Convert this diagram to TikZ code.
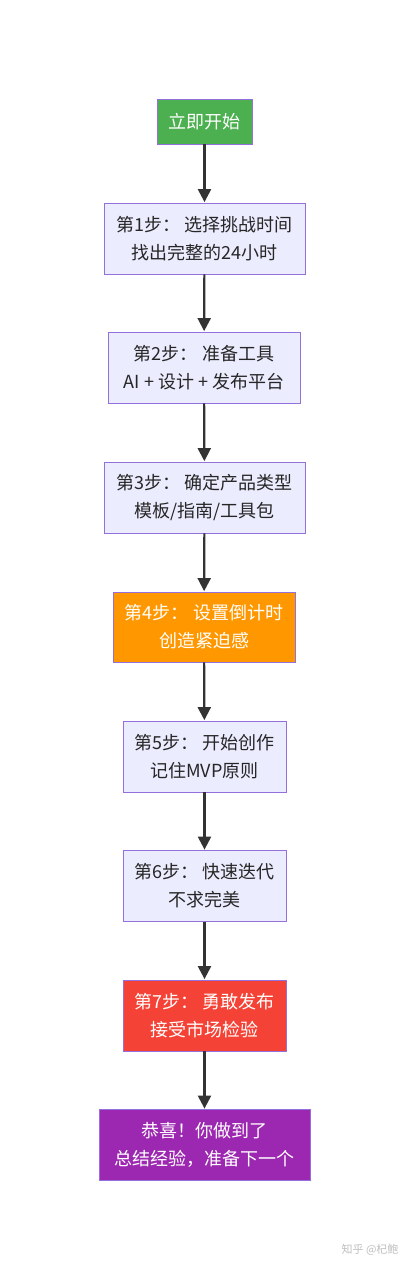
\documentclass[tikz,border=0pt]{standalone}
\usepackage{fontspec}
\newfontfamily\cjk{Noto Sans CJK SC}
\usetikzlibrary{arrows.meta}
\definecolor{lav}{HTML}{ECECFF}
\definecolor{lavb}{HTML}{9370DB}
\definecolor{cgreen}{HTML}{4CAF50}
\definecolor{corange}{HTML}{FF9800}
\definecolor{cred}{HTML}{F44336}
\definecolor{cpurple}{HTML}{9C27B0}
\definecolor{arr}{HTML}{333333}
\tikzset{
  base/.style={draw=lavb, line width=0.8pt, align=center, inner sep=0pt,
    font=\cjk\fontsize{18}{28}\selectfont},
  plain/.style={base, fill=lav, text=black!85},
  col/.style={base, text=white},
  link/.style={draw=arr, line width=2.2pt, -{Triangle[length=13pt,width=13pt]}, shorten >=0.5pt}
}
\begin{document}
\begin{tikzpicture}[x=1pt,y=-1pt]
\useasboundingbox[fill=white] (0,0) rectangle (409,1280);
\node[col, fill=cgreen, minimum width=95pt, minimum height=45pt] (s) at (204.5,121.5) {立即开始};
\node[plain, minimum width=201pt, minimum height=71pt] (a1) at (204.5,238.5) {第1步：~选择挑战时间\\找出完整的24小时};
\node[plain, minimum width=192pt, minimum height=71pt] (a2) at (204,367.5) {第2步：~准备工具\\AI + 设计 + 发布平台};
\node[plain, minimum width=201pt, minimum height=71pt] (a3) at (204.5,497.5) {第3步：~确定产品类型\\模板/指南/工具包};
\node[col, fill=corange, minimum width=182pt, minimum height=70pt] (a4) at (204,627) {第4步：~设置倒计时\\创造紧迫感};
\node[plain, minimum width=163pt, minimum height=71pt] (a5) at (204.5,756.5) {第5步：~开始创作\\记住MVP原则};
\node[plain, minimum width=163pt, minimum height=71pt] (a6) at (204.5,886) {第6步：~快速迭代\\不求完美};
\node[col, fill=cred, minimum width=163pt, minimum height=71pt] (a7) at (204.5,1015.5) {第7步：~勇敢发布\\接受市场检验};
\node[col, fill=cpurple, minimum width=211pt, minimum height=71pt] (f) at (204.5,1145) {恭喜！你做到了\\总结经验，准备下一个};
\draw[link] (s) -- (a1);
\draw[link] (a1) -- (a2);
\draw[link] (a2) -- (a3);
\draw[link] (a3) -- (a4);
\draw[link] (a4) -- (a5);
\draw[link] (a5) -- (a6);
\draw[link] (a6) -- (a7);
\draw[link] (a7) -- (f);
\node[font=\cjk\fontsize{11}{13}\selectfont, text=black!25] (wm) at (370,1250) {知乎 @杞鲍};
\end{tikzpicture}
\end{document}
